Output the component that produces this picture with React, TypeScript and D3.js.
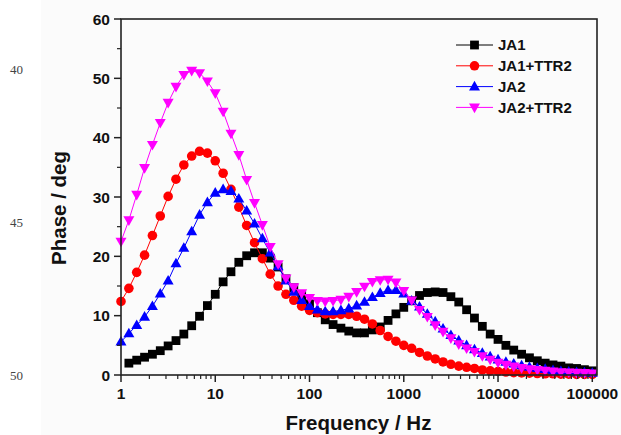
import React from "react";
import * as d3 from "d3";

// Frequencies (Hz), log-spaced measurement points
const freqs: number[] = [
  1, 1.212, 1.468, 1.778, 2.154, 2.61, 3.162, 3.831, 4.642, 5.623, 6.813, 8.254,
  10, 12.12, 14.68, 17.78, 21.54, 26.1, 31.62, 38.31, 46.42, 56.23, 68.13, 82.54,
  100, 121.2, 146.8, 177.8, 215.4, 261.0, 316.2, 383.1, 464.2, 562.3, 681.3, 825.4,
  1000, 1212, 1468, 1778, 2154, 2610, 3162, 3831, 4642, 5623, 6813, 8254,
  10000, 12115, 14678, 17783, 21544, 26102, 31623, 38312, 46416, 56234, 68129, 82540,
  100000,
];

const ja1: (number | null)[] = [
  null, 2.0, 2.5, 3.0, 3.5, 4.1, 4.9, 5.8, 6.9, 8.3, 9.9, 11.7, 13.6, 15.7, 17.4, 19.0,
  20.1, 20.6, 20.6, 19.7, 18.2, 16.2, 14.7, 13.4, 12.0, 10.5, 9.3, 8.5, 7.9, 7.4, 7.1,
  7.1, 7.6, 8.1, 9.2, 10.3, 11.4, 12.5, 13.4, 13.9, 14.0, 13.9, 13.2, 12.3, 11.0, 9.6,
  8.2, 6.9, 6.0, 5.0, 4.2, 3.5, 2.9, 2.4, 2.0, 1.7, 1.5, 1.2, 1.1, 0.9, 0.7,
];

const ja1ttr2: number[] = [
  12.4, 14.6, 17.3, 20.2, 23.5, 26.8, 30.1, 33.0, 35.4, 36.9, 37.7, 37.4, 36.1, 34.0,
  31.3, 28.3, 25.2, 22.3, 19.6, 17.0, 15.0, 13.6, 12.6, 11.6, 10.9, 10.5, 10.3, 10.2,
  10.2, 10.2, 9.9, 9.4, 8.6, 7.5, 6.5, 5.7, 5.0, 4.5, 3.8, 3.2, 2.7, 2.2, 1.8, 1.5, 1.3,
  1.1, 0.85, 0.7, 0.6, 0.5, 0.4, 0.35, 0.3, 0.25, 0.2, 0.2, 0.15, 0.15, 0.1, 0.1, 0.1,
];

const ja2: number[] = [
  5.6, 7.0, 8.4, 9.8, 11.6, 13.7, 15.9, 18.8, 21.4, 24.2, 27.0, 29.1, 30.7, 31.3, 31.0,
  29.7, 27.7, 25.5, 23.0, 20.6, 18.3, 15.9, 14.0, 12.6, 11.6, 11.0, 10.7, 10.7, 10.9,
  11.2, 11.7, 12.3, 13.1, 13.8, 14.3, 14.3, 13.7, 12.5, 11.5, 10.3, 9.0, 7.8, 6.7, 5.8,
  5.0, 4.3, 3.7, 3.1, 2.6, 2.2, 1.9, 1.6, 1.35, 1.15, 1.0, 0.8, 0.65, 0.55, 0.45, 0.4, 0.35,
];

const ja2ttr2: number[] = [
  22.5, 26.1, 30.4, 34.9, 38.8, 42.5, 45.9, 48.6, 50.6, 51.3, 50.9, 49.5, 47.5, 44.4,
  40.7, 37.1, 32.9, 29.0, 25.3, 21.6, 18.7, 16.3, 14.8, 13.8, 13.0, 12.5, 12.4, 12.5,
  12.7, 13.2, 14.0, 14.9, 15.7, 16.0, 16.1, 15.6, 14.2, 12.6, 11.0, 9.8, 8.4, 7.3, 6.2,
  5.2, 4.5, 3.9, 3.2, 2.6, 2.1, 1.75, 1.45, 1.2, 1.0, 0.85, 0.75, 0.6, 0.5, 0.45, 0.4,
  0.35, 0.3,
];

const seriesNames = ["JA1", "JA1+TTR2", "JA2", "JA2+TTR2"];
const seriesValues = [ja1, ja1ttr2, ja2, ja2ttr2];
const seriesColors = ["#000000", "#ff0000", "#0000ff", "#ff00ff"];
const seriesShapes = ["square", "circle", "triangleUp", "triangleDown"];

const xTickValues = [1, 10, 100, 1000, 10000, 100000];
const xTickLabels = ["1", "10", "100", "1000", "10000", "100000"];
const yTickValues = [0, 10, 20, 30, 40, 50, 60];
const marginNumbers = ["40", "45", "50"];

const FONT = "'Liberation Sans', Arial, Helvetica, sans-serif";

function Marker({ shape, x, y, color }: { shape: string; x: number; y: number; color: string }) {
  if (shape === "square") {
    const s = 8.8;
    return <rect x={x - s / 2} y={y - s / 2} width={s} height={s} fill={color} />;
  }
  if (shape === "circle") {
    return <circle cx={x} cy={y} r={4.8} fill={color} />;
  }
  const w = 11;
  const h = 9.6;
  if (shape === "triangleUp") {
    const p = `${x},${y - h * 0.6} ${x + w / 2},${y + h * 0.4} ${x - w / 2},${y + h * 0.4}`;
    return <polygon points={p} fill={color} />;
  }
  const p = `${x},${y + h * 0.6} ${x + w / 2},${y - h * 0.4} ${x - w / 2},${y - h * 0.4}`;
  return <polygon points={p} fill={color} />;
}

export default function App() {
  const W = 621;
  const H = 435;
  const left = 121;
  const right = 597;
  const top = 19;
  const bottom = 375;

  const x = d3.scaleLog().domain([1, 112200]).range([left, right]);
  const y = d3.scaleLinear().domain([0, 60]).range([bottom, top]);

  const minorX: number[] = [];
  for (let dec = 1; dec < 100000; dec *= 10) {
    for (let k = 2; k <= 9; k++) minorX.push(dec * k);
  }
  const minorY = d3.range(5, 60, 10);

  const axisColor = "#222";

  return (
    <svg
      width={W}
      height={H}
      viewBox={`0 0 ${W} ${H}`}
      style={{ position: "absolute", left: 0, top: 0, background: "#fff" }}
    >
      <rect x={41} y={0} width={W - 41} height={H} fill="#fbfbfb" />
      {/* margin line numbers */}
      {marginNumbers.map((t, i) => (
        <text
          key={t}
          x={10}
          y={[74, 227, 380][i]}
          fontFamily="'Liberation Serif', 'Times New Roman', serif"
          fontSize={13}
          fill="#444"
        >
          {t}
        </text>
      ))}

      {/* series lines */}
      {seriesValues.map((vals, si) => {
        const pts = freqs
          .map((f, i) => [f, vals[i]] as [number, number | null])
          .filter((d) => d[1] !== null) as [number, number][];
        const line = d3
          .line<[number, number]>()
          .x((d) => x(d[0]))
          .y((d) => y(d[1]));
        return (
          <g key={seriesNames[si]}>
            <path d={line(pts) || ""} fill="none" stroke={seriesColors[si]} strokeWidth={1} />
            {pts.map((d, i) => (
              <Marker key={i} shape={seriesShapes[si]} x={x(d[0])} y={y(d[1])} color={seriesColors[si]} />
            ))}
          </g>
        );
      })}

      {/* frame */}
      <rect x={left} y={top} width={right - left} height={bottom - top} fill="none" stroke={axisColor} strokeWidth={1.6} />

      {/* x ticks */}
      {xTickValues.map((v, i) => (
        <g key={v}>
          <line x1={x(v)} x2={x(v)} y1={bottom} y2={bottom + 7} stroke={axisColor} strokeWidth={1.5} />
          <text
            x={x(v)}
            y={bottom + 24}
            textAnchor="middle"
            fontFamily={FONT}
            fontWeight="bold"
            fontSize={15.5}
            fill="#111"
          >
            {xTickLabels[i]}
          </text>
        </g>
      ))}
      {minorX.map((v) => (
        <line key={v} x1={x(v)} x2={x(v)} y1={bottom} y2={bottom + 4} stroke={axisColor} strokeWidth={1.2} />
      ))}

      {/* y ticks */}
      {yTickValues.map((v) => (
        <g key={v}>
          <line x1={left - 7} x2={left} y1={y(v)} y2={y(v)} stroke={axisColor} strokeWidth={1.5} />
          <text
            x={left - 11}
            y={y(v)}
            dy="0.36em"
            textAnchor="end"
            fontFamily={FONT}
            fontWeight="bold"
            fontSize={15.5}
            fill="#111"
          >
            {v}
          </text>
        </g>
      ))}
      {minorY.map((v) => (
        <line key={v} x1={left - 4} x2={left} y1={y(v)} y2={y(v)} stroke={axisColor} strokeWidth={1.2} />
      ))}

      {/* axis titles */}
      <text
        x={(left + right) / 2 - 0.5}
        y={430}
        textAnchor="middle"
        fontFamily={FONT}
        fontWeight="bold"
        fontSize={20.5}
        fill="#111"
      >
        Frequency / Hz
      </text>
      <text
        transform={`translate(66, 208) rotate(-90)`}
        textAnchor="middle"
        fontFamily={FONT}
        fontWeight="bold"
        fontSize={20.5}
        fill="#111"
      >
        Phase / deg
      </text>

      {/* legend */}
      {seriesNames.map((name, i) => {
        const ly = 45 + i * 20.8;
        return (
          <g key={name}>
            <line x1={456} x2={493} y1={ly} y2={ly} stroke={seriesColors[i]} strokeWidth={1} />
            <Marker shape={seriesShapes[i]} x={474.5} y={ly} color={seriesColors[i]} />
            <text x={498} y={ly} dy="0.36em" fontFamily={FONT} fontWeight="bold" fontSize={15} fill="#111">
              {name}
            </text>
          </g>
        );
      })}
    </svg>
  );
}
